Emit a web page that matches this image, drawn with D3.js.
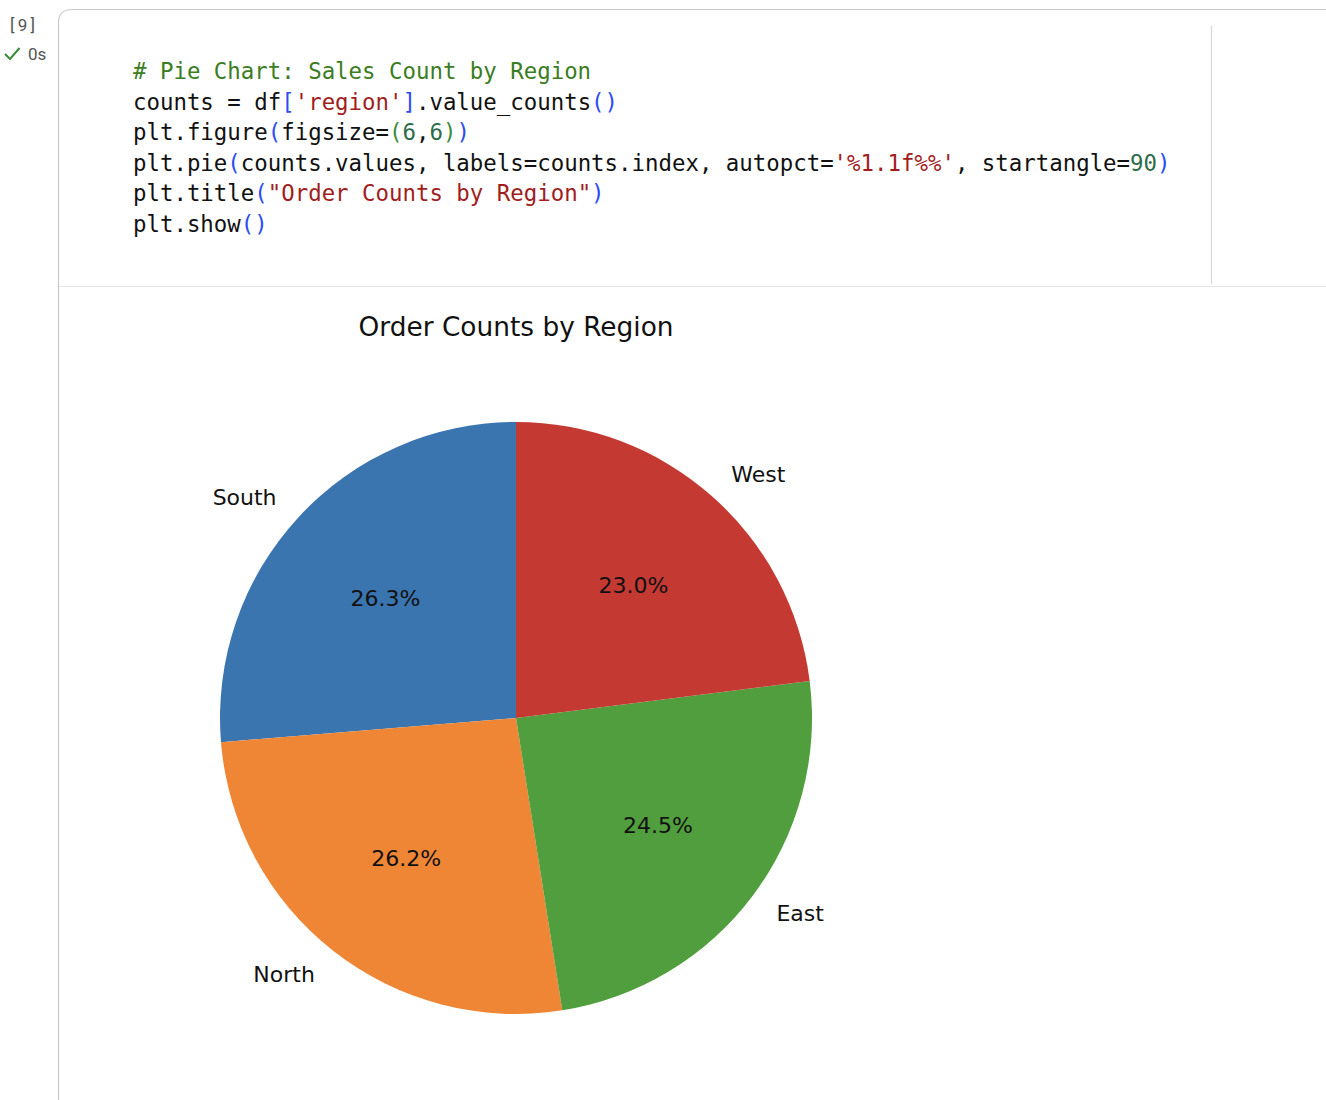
<!DOCTYPE html>
<html>
<head>
<meta charset="utf-8">
<script src="https://cdn.jsdelivr.net/npm/d3@7"></script>
<style>
  html, body { margin: 0; padding: 0; background: #ffffff; }
  svg { display: block; }
  text { white-space: pre; }
</style>
</head>
<body>
<script>
// ---- data ----
const regions = ["South", "North", "East", "West"];
const shares = [26.3, 26.2, 24.5, 23.0];
const sliceColors = ["#3b75af", "#ef8636", "#519e3e", "#c43a33"];
const chartTitle = "Order Counts by Region";

// code cell text: [text, tokenType]
const codeLines = [
  [["# Pie Chart: Sales Count by Region", "com"]],
  [["counts = df", "txt"], ["[", "br1"], ["'region'", "str"], ["]", "br1"], [".value_counts", "txt"], ["()", "br1"]],
  [["plt.figure", "txt"], ["(", "br1"], ["figsize=", "txt"], ["(", "br2"], ["6", "num"], [",", "txt"], ["6", "num"], [")", "br2"], [")", "br1"]],
  [["plt.pie", "txt"], ["(", "br1"], ["counts.values, labels=counts.index, autopct=", "txt"], ["'%1.1f%%'", "str"], [", startangle=", "txt"], ["90", "num"], [")", "br1"]],
  [["plt.title", "txt"], ["(", "br1"], ["\"Order Counts by Region\"", "str"], [")", "br1"]],
  [["plt.show", "txt"], ["()", "br1"]]
];
const execCount = "[9]";
const execTime = "0s";

const tokenColors = { com: "#3a7d22", txt: "#111111", br1: "#2a4cf2", br2: "#3a8a3a", str: "#a11d1d", num: "#2d6c4a" };

// ---- page ----
const W = 1326, H = 1100;
const svg = d3.select("body").append("svg").attr("width", W).attr("height", H);

// cell border
svg.append("path")
  .attr("d", "M58.5,1100 L58.5,23 Q58.5,9.5 72,9.5 L1326,9.5")
  .attr("fill", "none").attr("stroke", "#c9c9c9").attr("stroke-width", 1.2);
// editor separator
svg.append("line").attr("x1", 59).attr("x2", W).attr("y1", 286.5).attr("y2", 286.5)
  .attr("stroke", "#e6e6e6").attr("stroke-width", 1.2);
svg.append("line").attr("x1", 1211.5).attr("x2", 1211.5).attr("y1", 26).attr("y2", 284)
  .attr("stroke", "#d6d6d6").attr("stroke-width", 1.2);

// execution count / status
svg.append("text").attr("x", 10).attr("y", 31).attr("font-family", "Roboto").attr("font-size", 17)
  .attr("fill", "#555").attr("textLength", 25).text(execCount);
svg.append("polyline").attr("points", "5,54 10,59 19.5,48")
  .attr("fill", "none").attr("stroke", "#3a8b3a").attr("stroke-width", 2);
svg.append("text").attr("x", 28).attr("y", 60).attr("font-family", "Roboto").attr("font-size", 17)
  .attr("fill", "#555").text(execTime);

// code
const codeG = svg.append("g").attr("transform", "translate(133,0) scale(0.953,1)");
codeLines.forEach((line, i) => {
  const t = codeG.append("text")
    .attr("x", 0).attr("y", 79.5 + i * 30.5)
    .attr("font-family", "DejaVu Sans Mono").attr("font-size", 23.5);
  line.forEach(([s, k]) => t.append("tspan").attr("fill", tokenColors[k]).text(s));
});

// ---- pie chart ----
const cx = 516, cy = 718, R = 296;
const g = svg.append("g").attr("transform", `translate(${cx},${cy})`);

svg.append("text").attr("x", cx).attr("y", 336).attr("text-anchor", "middle")
  .attr("font-family", "DejaVu Sans").attr("font-size", 26.4).attr("fill", "#111")
  .text(chartTitle);

const data = regions.map((r, i) => ({ region: r, value: shares[i], color: sliceColors[i] }));
const total = d3.sum(shares);
const pie = d3.pie().value(d => d.value).sort(null).startAngle(0).endAngle(-2 * Math.PI);
const arcs = pie(data);
const arc = d3.arc().innerRadius(0).outerRadius(R);

g.selectAll("path.slice").data(arcs).join("path")
  .attr("class", "slice")
  .attr("d", arc)
  .attr("fill", d => d.data.color);

const fmt = d3.format(".1f");
const pos = (d, k) => {
  const a = (d.startAngle + d.endAngle) / 2;
  return [Math.sin(a) * R * k, -Math.cos(a) * R * k];
};

g.selectAll("text.lbl").data(arcs).join("text")
  .attr("class", "lbl")
  .attr("x", d => pos(d, 1.1)[0])
  .attr("y", d => pos(d, 1.1)[1])
  .attr("dy", "0.36em")
  .attr("text-anchor", d => pos(d, 1.1)[0] < 0 ? "end" : "start")
  .attr("font-family", "DejaVu Sans").attr("font-size", 22).attr("fill", "#111")
  .text(d => d.data.region);

g.selectAll("text.pct").data(arcs).join("text")
  .attr("class", "pct")
  .attr("x", d => pos(d, 0.6)[0])
  .attr("y", d => pos(d, 0.6)[1])
  .attr("dy", "0.36em")
  .attr("text-anchor", "middle")
  .attr("font-family", "DejaVu Sans").attr("font-size", 22).attr("fill", "#111")
  .text(d => fmt(d.data.value / total * 100) + "%");
</script>
</body>
</html>
